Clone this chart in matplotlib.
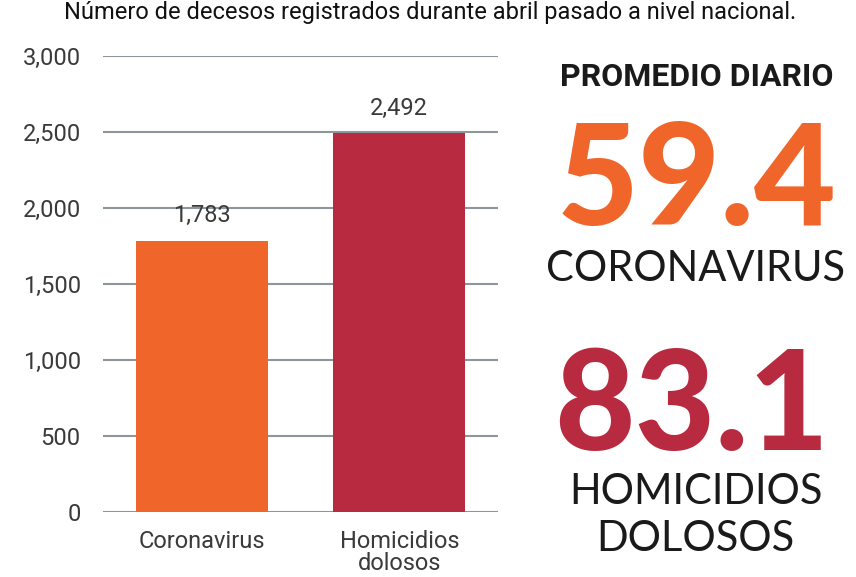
import matplotlib
matplotlib.use("Agg")
import matplotlib.pyplot as plt

categories = ["Coronavirus", "Homicidios\ndolosos"]
values = [1783, 2492]
value_labels = ["1,783", "2,492"]
yticks = [0, 500, 1000, 1500, 2000, 2500, 3000]
ytick_labels = ["0", "500", "1,000", "1,500", "2,000", "2,500", "3,000"]
daily_values = ["59.4", "83.1"]
daily_names = ["CORONAVIRUS", "HOMICIDIOS\nDOLOSOS"]
title = "Número de decesos registrados durante abril pasado a nivel nacional."
side_title = "PROMEDIO DIARIO"

ORANGE = "#F0652A"
RED = "#B82A40"
colors = [ORANGE, RED]

W, H = 856, 577
fig = plt.figure(figsize=(W / 100, H / 100), dpi=100)
fig.patch.set_facecolor("white")

def fx(px):
    return px / W

def fy(py):
    return 1 - py / H

ax = fig.add_axes([fx(103), fy(512), fx(498) - fx(103), (512 - 56) / H])
x = list(range(len(categories)))
ax.bar(x, values, width=0.667, color=colors, zorder=3)
ax.set_xlim(-0.5, 1.5)
ax.set_ylim(0, 3000)
ax.set_yticks(yticks)
ax.set_yticklabels(ytick_labels)
for t in yticks:
    ax.axhline(t, color="#8C969B", lw=1.5, zorder=1)
for s in ax.spines.values():
    s.set_visible(False)
ax.tick_params(axis="y", length=0, pad=16, labelsize=17, labelcolor="#3a3a3a")
ax.tick_params(axis="x", length=0, pad=13, labelsize=17, labelcolor="#3a3a3a")
for lbl in ax.get_yticklabels():
    lbl.set_fontfamily("Roboto")
ax.set_xticks(x)
ax.set_xticklabels(categories, fontfamily="Roboto", linespacing=0.95, va="top")
for xi, v, lab in zip(x, values, value_labels):
    ax.text(xi, v + 90, lab, ha="center", va="bottom", fontsize=17,
            color="#3a3a3a", fontfamily="Roboto")

fig.text(fx(430), fy(1), title, ha="center", va="top", fontsize=17,
         color="#111111", fontfamily="Roboto")

fig.text(fx(697), fy(86), side_title, ha="center", va="baseline", fontsize=23,
         fontweight="bold", color="#1a1a1a", fontfamily="Roboto")
fig.text(fx(697), fy(225), daily_values[0], ha="center", va="baseline", fontsize=102,
         fontweight="black", color=ORANGE, fontfamily="Lato")
fig.text(fx(696), fy(281), daily_names[0], ha="center", va="baseline", fontsize=30,
         fontweight="normal", color="#1a1a1a", fontfamily="Lato")
fig.text(fx(692), fy(450), daily_values[1], ha="center", va="baseline", fontsize=100,
         fontweight="black", color=RED, fontfamily="Lato")
names2 = daily_names[1].split("\n")
fig.text(fx(696), fy(504), names2[0], ha="center", va="baseline", fontsize=30,
         fontweight="normal", color="#1a1a1a", fontfamily="Lato")
fig.text(fx(695), fy(551), names2[1], ha="center", va="baseline", fontsize=30,
         fontweight="normal", color="#1a1a1a", fontfamily="Lato")

fig.savefig("out.png", dpi=100)
